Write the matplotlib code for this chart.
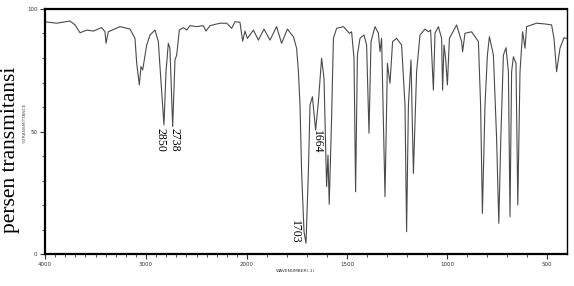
import numpy as np
import matplotlib
matplotlib.use("Agg")
import matplotlib.pyplot as plt
from matplotlib.ticker import FixedLocator, FixedFormatter


# IR spectrum: wavenumber (cm-1) and % transmittance.
wavenumber = [
    4000, 3884, 3752, 3703, 3653, 3587, 3522, 3439, 3406, 3396, 3373, 3257,
    3158, 3109, 3092, 3066, 3050, 3033, 2993, 2960, 2911, 2878, 2855, 2822,
    2802, 2779, 2763, 2736, 2713, 2696, 2670, 2631, 2597, 2565, 2498, 2433,
    2406, 2367, 2268, 2201, 2152, 2119, 2070, 2043, 2020, 1998, 1968, 1943,
    1915, 1885, 1852, 1827, 1798, 1768, 1752, 1743, 1735, 1727, 1715, 1705,
    1693, 1685, 1673, 1657, 1643, 1627, 1615, 1602, 1595, 1589, 1577, 1568,
    1552, 1518, 1488, 1477, 1465, 1457, 1448, 1435, 1415, 1402, 1390, 1380,
    1360, 1343, 1335, 1327, 1310, 1298, 1285, 1272, 1252, 1227, 1210, 1202,
    1193, 1180, 1168, 1152, 1135, 1110, 1093, 1082, 1068, 1060, 1043, 1027,
    1022, 1015, 1007, 998, 988, 952, 927, 922, 910, 877, 843, 832,
    823, 810, 798, 788, 768, 752, 741, 731, 718, 705, 693, 685,
    677, 668, 655, 646, 635, 622, 610, 602, 552, 510, 477, 465,
    452, 435, 415, 402,
]
transmittance = [
    94.8, 94.2, 95.1, 93.5, 90.3, 91.4, 91.0, 92.4, 90.7, 86.0, 90.7, 92.8,
    91.8, 88.0, 77.8, 69.0, 76.5, 75.1, 85.3, 89.4, 91.4, 86.7, 72.4, 52.7,
    74.4, 86.0, 84.0, 52.0, 79.2, 81.2, 91.4, 92.4, 91.4, 93.2, 92.8, 93.2,
    91.0, 93.2, 94.2, 94.2, 92.1, 94.8, 94.6, 86.9, 91.0, 88.0, 91.4, 87.3,
    91.8, 87.3, 92.8, 86.0, 91.8, 88.7, 84.0, 74.4, 60.8, 33.6, 9.1, 4.4,
    33.6, 60.8, 64.2, 50.6, 62.2, 79.9, 71.7, 27.5, 40.4, 20.3, 55.4, 88.0,
    92.1, 92.8, 90.1, 90.7, 79.9, 25.4, 81.2, 88.0, 89.4, 85.3, 49.3, 86.7,
    92.8, 90.1, 82.6, 88.0, 23.4, 77.8, 69.7, 86.7, 88.0, 85.3, 60.8, 9.1,
    60.8, 79.2, 32.9, 74.4, 89.4, 91.8, 90.7, 91.4, 66.9, 90.1, 92.8, 88.0,
    66.9, 85.3, 79.9, 69.0, 88.0, 93.5, 86.7, 82.6, 90.1, 90.7, 86.7, 60.8,
    16.6, 60.8, 81.2, 88.7, 81.2, 47.2, 12.5, 47.2, 81.2, 84.2, 74.4, 15.2,
    74.4, 80.5, 77.8, 20.0, 74.4, 90.7, 84.0, 92.8, 94.2, 93.9, 93.5, 88.0,
    74.4, 84.0, 88.3, 88.0,
]

# Peak labels: text, position of the label (wavenumber, %T).
peak_labels = ["2850", "2738", "1664", "1703"]
peak_label_wn = [2857, 2718, 1650, 1760]
peak_label_t = [51.4, 51.4, 50.6, 4.1]

x_ticks = [4000, 3000, 2000, 1500, 1000, 500]
y_ticks = [0, 50, 100]


# The wavenumber axis is compressed by a factor 2 above 2000 cm-1.
def forward(wn):
    wn = np.asarray(wn, dtype=float)
    return np.where(wn <= 2000, (wn - 400) * 0.2, 320 + (wn - 2000) * 0.101)


def inverse(p):
    p = np.asarray(p, dtype=float)
    return np.where(p <= 320, p / 0.2 + 400, 2000 + (p - 320) / 0.101)


fig = plt.figure(figsize=(5.74, 2.86), dpi=100)
ax = fig.add_axes([45 / 574, 32 / 286, 522 / 574, 245 / 286])
ax.set_xscale("function", functions=(forward, inverse))
ax.plot(wavenumber, transmittance, color="#4a4a4a", linewidth=0.8)

ax.set_xlim(4000, 400)
ax.set_ylim(0, 100)

ax.xaxis.set_major_locator(FixedLocator(x_ticks))
ax.xaxis.set_major_formatter(FixedFormatter([str(v) for v in x_ticks]))
ax.xaxis.set_minor_locator(FixedLocator(list(range(500, 4000, 100))))
ax.yaxis.set_major_locator(FixedLocator(y_ticks))
ax.yaxis.set_minor_locator(FixedLocator(list(range(10, 100, 10))))
ax.tick_params(which="both", direction="out", labelsize=4, pad=2,
               color="#333333", labelcolor="#333333")
ax.tick_params(which="major", length=3.5, width=0.8)
ax.tick_params(which="minor", length=2.5, width=0.6)

for side in ["left", "bottom", "top"]:
    ax.spines[side].set_linewidth(1.6)
ax.spines["right"].set_linewidth(1.0)

for label, wn, t in zip(peak_labels, peak_label_wn, peak_label_t):
    va = "bottom" if t < 20 else "top"
    ax.text(wn, t, label, rotation=270, ha="center", va=va,
            family="Liberation Serif", fontsize=8.5)

fig.text(11 / 574, 1 - 150 / 286, "persen transmitansi", rotation=90,
         ha="center", va="center", family="Liberation Serif", fontsize=15.5)
fig.text(25 / 574, 1 - 123 / 286, "%TRANSMITTANCE", rotation=90,
         ha="center", va="center", fontsize=3.2, color="#555555")
fig.text(295 / 574, 1 - 271 / 286, "WAVENUMBER(-1)", ha="center",
         va="center", fontsize=3.2, color="#333333")

fig.savefig("out.png", dpi=100)
